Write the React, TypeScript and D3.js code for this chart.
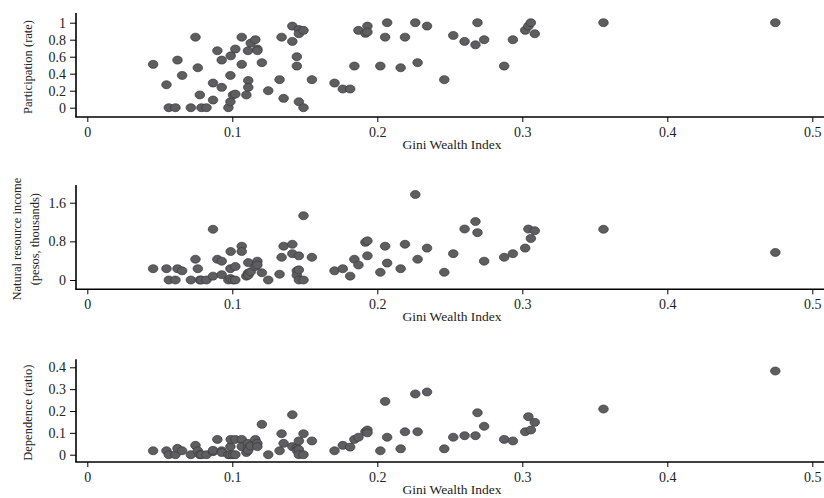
import { useEffect, useRef } from "react";
import * as d3 from "d3";

const gini = [
  0.0454, 0.0546, 0.0562, 0.0608, 0.0622, 0.0654, 0.0714, 0.0746, 0.0762, 0.0776,
  0.0787, 0.0822, 0.0867, 0.0867, 0.0897, 0.0927, 0.0927, 0.0973, 0.0987, 0.0987,
  0.0989, 0.1005, 0.1021, 0.1021, 0.1065, 0.1065, 0.1097, 0.1108, 0.111, 0.111,
  0.1127, 0.1159, 0.1173, 0.1173, 0.1204, 0.1248, 0.1326, 0.134, 0.1354, 0.1414,
  0.1414, 0.1445, 0.1445, 0.1459, 0.1459, 0.1491, 0.1459, 0.1491, 0.1549, 0.1705,
  0.1762, 0.1813, 0.1842, 0.187, 0.1918, 0.1932, 0.1932, 0.2021, 0.2054, 0.2068,
  0.2161, 0.2191, 0.2262, 0.2278, 0.2343, 0.2462, 0.2524, 0.2602, 0.2677, 0.2691,
  0.2737, 0.2875, 0.2935, 0.302, 0.3042, 0.3059, 0.3086, 0.356, 0.4745,
];

const participation = [
  0.51, 0.27, 0, 0, 0.56, 0.38, 0, 0.83, 0.47, 0.15,
  0, 0, 0.09, 0.29, 0.67, 0.56, 0.24, 0, 0.07, 0.38,
  0.61, 0.15, 0.69, 0.16, 0.83, 0.51, 0.15, 0.67, 0.32, 0.24,
  0.76, 0.8, 0.69, 0.67, 0.53, 0.2, 0.33, 0.83, 0.11, 0.96,
  0.78, 0.6, 0.49, 0.92, 0.87, 0.91, 0.07, 0, 0.33, 0.29,
  0.22, 0.22, 0.49, 0.91, 0.875, 0.96, 0.89, 0.49, 0.83, 1.0,
  0.47, 0.83, 1.0, 0.53, 0.96, 0.33, 0.85, 0.78, 0.74, 1.0,
  0.8, 0.49, 0.8, 0.91, 0.96, 1.0, 0.87, 1.0, 1.0,
];

const income = [
  0.234, 0.234, 0, 0, 0.234, 0.19, 0, 0.43, 0.234, 0,
  0, 0, 0.08, 1.05, 0.43, 0.39, 0.11, 0, 0.03, 0.234,
  0.59, 0, 0.28, 0, 0.7, 0.59, 0.08, 0.14, 0.36, 0.1,
  0.17, 0.28, 0.39, 0.31, 0.15, 0, 0.12, 0.47, 0.7, 0.74,
  0.545, 0.19, 0.1, 0.5, 0.21, 1.33, 0, 0, 0.47, 0.19,
  0.234, 0.08, 0.43, 0.31, 0.78, 0.81, 0.5, 0.16, 0.7, 0.35,
  0.234, 0.74, 1.77, 0.43, 0.66, 0.16, 0.545, 1.055, 1.21, 0.98,
  0.39, 0.47, 0.545, 0.66, 1.055, 0.86, 1.02, 1.05, 0.57,
];

const dependence = [
  0.018, 0.018, 0, 0, 0.029, 0.018, 0, 0.043, 0.018, 0,
  0, 0, 0.014, 0.02, 0.07, 0.018, 0.01, 0, 0, 0.037,
  0.07, 0, 0.07, 0, 0.07, 0.037, 0.01, 0.052, 0.03, 0.02,
  0.04, 0.07, 0.052, 0.037, 0.139, 0, 0.018, 0.096, 0.052, 0.183,
  0.037, 0.03, 0.02, 0.063, 0.024, 0.096, 0, 0, 0.063, 0.018,
  0.043, 0.035, 0.07, 0.08, 0.105, 0.113, 0.1, 0.018, 0.244, 0.08,
  0.027, 0.105, 0.278, 0.105, 0.287, 0.027, 0.08, 0.087, 0.087, 0.192,
  0.13, 0.07, 0.063, 0.105, 0.174, 0.113, 0.148, 0.209, 0.383,
];

const xTicks = [0, 0.1, 0.2, 0.3, 0.4, 0.5];
const participationTicks = [0, 0.2, 0.4, 0.6, 0.8, 1];
const incomeTicks = [0, 0.8, 1.6];
const dependenceTicks = [0, 0.1, 0.2, 0.3, 0.4];

const FONT = "'Liberation Serif', 'Times New Roman', serif";

export default function App() {
  const ref = useRef<SVGSVGElement>(null);

  useEffect(() => {
    if (!ref.current) return;
    const svg = d3.select(ref.current);
    svg.selectAll("*").remove();
    const W = 824;
    const left = 76;

    const x = d3.scaleLinear().domain([0, 0.5]).range([87.3, 812.3]);

    const panels = [
      { values: participation, ticks: participationTicks, domain: [0, 1], range: [107.7, 22.7], top: 13, bottom: 117, title: ["Participation (rate)"] },
      { values: income, ticks: incomeTicks, domain: [0, 1.6], range: [280, 202.7], top: 185, bottom: 289.3, title: ["Natural resource income", "(pesos, thousands)"] },
      { values: dependence, ticks: dependenceTicks, domain: [0, 0.4], range: [454.7, 367.3], top: 359.3, bottom: 462, title: ["Dependence (ratio)"] },
    ];

    panels.forEach((p) => {
      const y = d3.scaleLinear().domain(p.domain).range(p.range);
      const g = svg.append("g");

      // points
      g.selectAll("ellipse")
        .data(gini.map((gv, i) => ({ gv, v: p.values[i] })))
        .join("ellipse")
        .attr("cx", (d) => x(d.gv))
        .attr("cy", (d) => y(d.v))
        .attr("rx", 4.8)
        .attr("ry", 4)
        .attr("fill", "#5e5e60")
        .attr("stroke", "#3a3a3c")
        .attr("stroke-width", 0.7);

      // y axis
      g.append("g")
        .attr("transform", `translate(${left},0)`)
        .call(d3.axisLeft(y).tickValues(p.ticks).tickSize(6).tickPadding(4).tickFormat((d) => String(+d)))
        .call((a) => a.select(".domain").remove())
        .call((a) => a.selectAll("line").attr("stroke", "#000").attr("stroke-width", 1))
        .call((a) => a.selectAll("text").attr("font-family", FONT).attr("font-size", 14).attr("fill", "#222"));

      // x axis
      g.append("g")
        .attr("transform", `translate(0,${p.bottom})`)
        .call(d3.axisBottom(x).tickValues(xTicks).tickSize(5).tickPadding(5).tickFormat((d) => String(+d)))
        .call((a) => a.select(".domain").remove())
        .call((a) => a.selectAll("line").attr("stroke", "#000").attr("stroke-width", 1))
        .call((a) => a.selectAll("text").attr("font-family", FONT).attr("font-size", 14).attr("fill", "#222"));

      // spines
      g.append("line")
        .attr("x1", left).attr("x2", left)
        .attr("y1", p.top).attr("y2", p.bottom)
        .attr("stroke", "#000").attr("stroke-width", 1.6);
      g.append("line")
        .attr("x1", left - 0.8).attr("x2", W)
        .attr("y1", p.bottom).attr("y2", p.bottom)
        .attr("stroke", "#000").attr("stroke-width", 1.6);

      // x title
      g.append("text")
        .attr("x", 452)
        .attr("y", p.bottom + 32)
        .attr("text-anchor", "middle")
        .attr("font-family", FONT)
        .attr("font-size", 13.5)
        .attr("fill", "#222")
        .text("Gini Wealth Index");

      // y title
      const cy = (p.top + p.bottom) / 2 + 2;
      const n = p.title.length;
      p.title.forEach((t, i) => {
        const cx = n === 1 ? 28 : 17 + i * 18;
        g.append("text")
          .attr("transform", `translate(${cx + 4},${cy}) rotate(-90)`)
          .attr("text-anchor", "middle")
          .attr("font-family", FONT)
          .attr("font-size", 12.5)
          .attr("fill", "#222")
          .text(t);
      });
    });
  }, []);

  return (
    <svg
      ref={ref}
      width={824}
      height={498}
      style={{ position: "absolute", left: 0, top: 0, background: "#fff" }}
    />
  );
}
